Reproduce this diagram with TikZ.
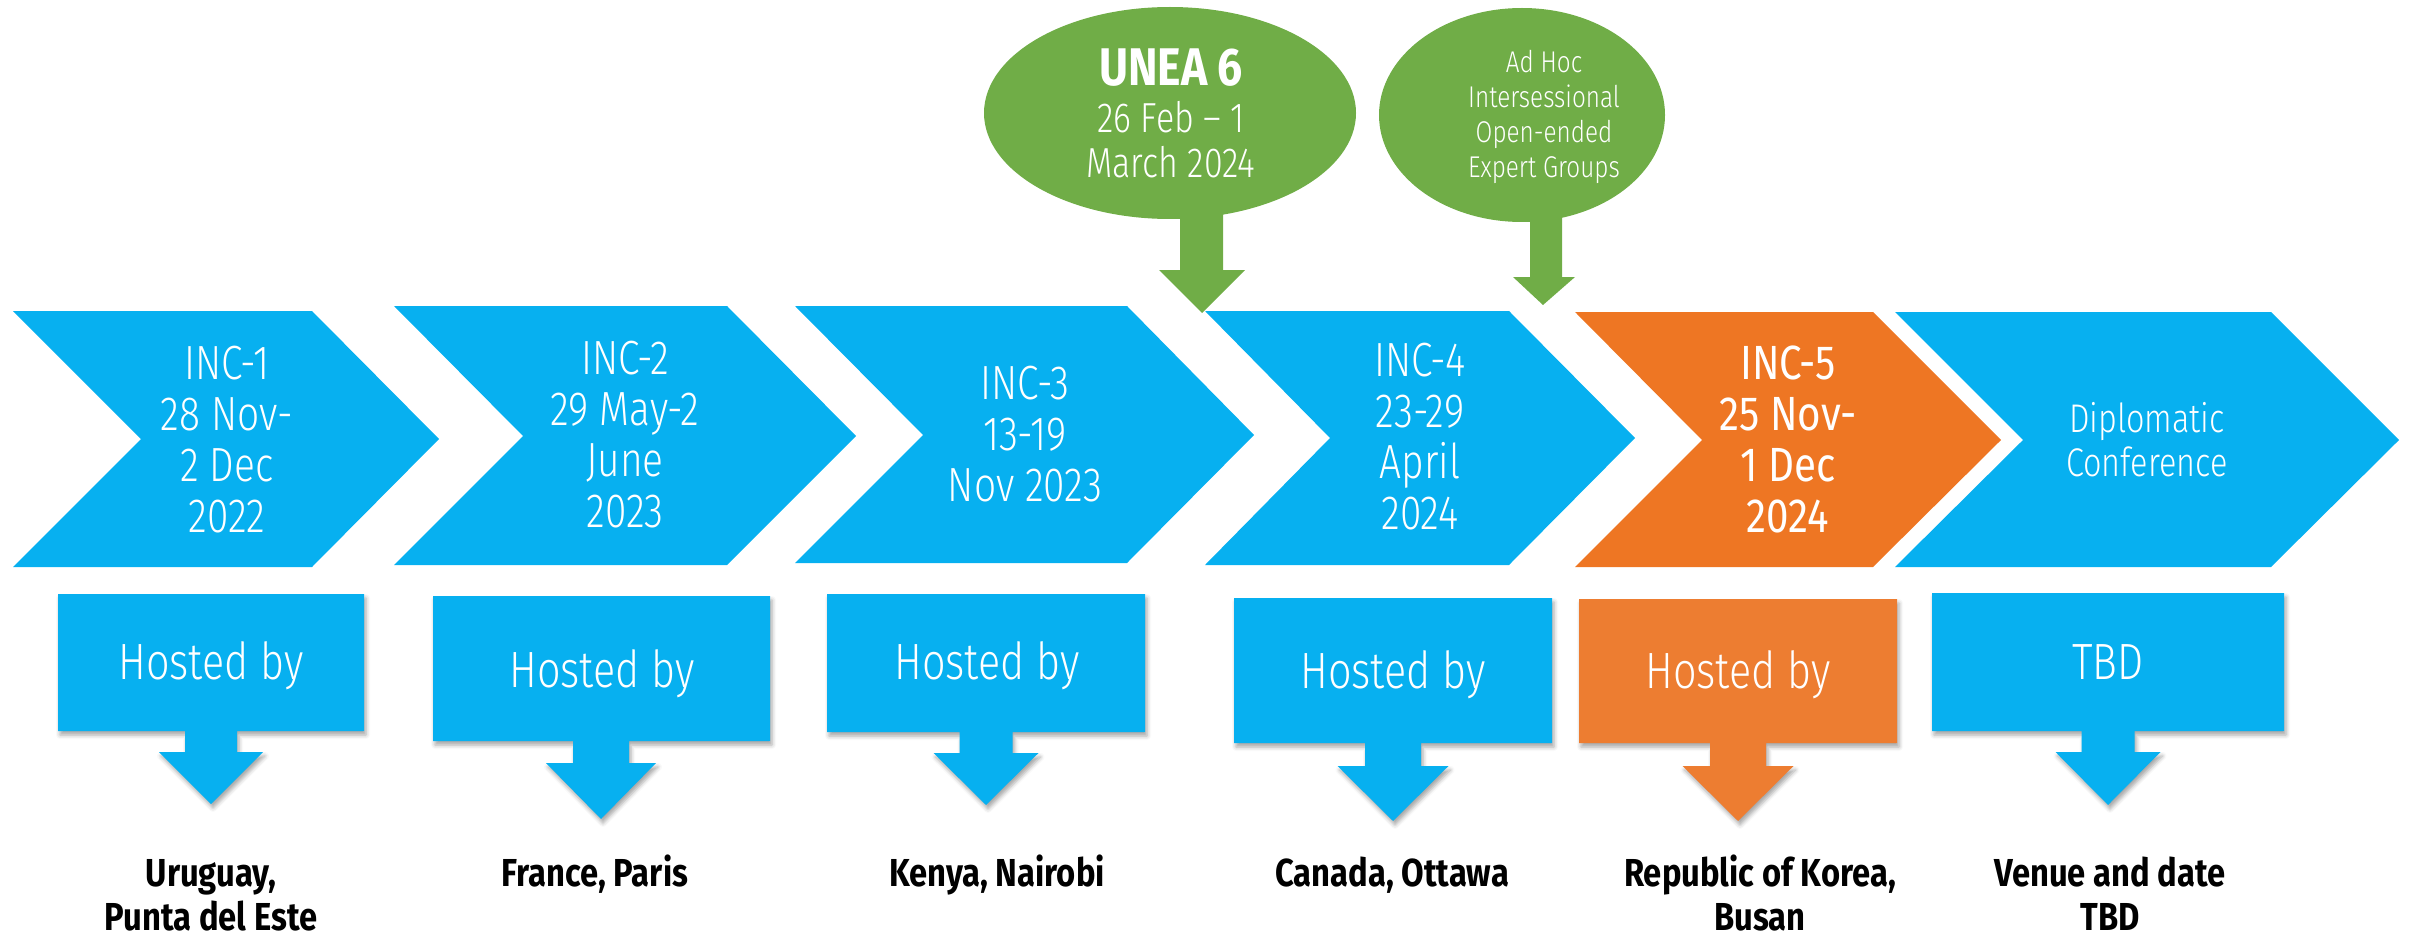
\documentclass[tikz,border=0pt]{standalone}
\usepackage{fontspec}
\setmainfont{Fira Sans}[FakeStretch=0.84]
\newfontfamily\lightf{Fira Sans Light}[FakeStretch=0.81]
\usetikzlibrary{shadows.blur}
\definecolor{cblue}{RGB}{7,176,240}
\definecolor{corange}{RGB}{238,118,35}
\definecolor{cboxorange}{RGB}{237,125,49}
\definecolor{cgreen}{RGB}{112,173,71}
\tikzset{
  chevtext/.style={anchor=base, align=center, text=white, inner sep=0pt, font=\lightf\fontsize{48}{51}\selectfont},
  hosttext/.style={anchor=base, align=center, text=white, inner sep=0pt, font=\lightf\fontsize{51}{55}\selectfont},
  placetext/.style={anchor=base, align=center, text=black, inner sep=0pt, font=\bfseries\fontsize{39}{44}\selectfont},
  calltext/.style={anchor=base, align=center, text=white, inner sep=0pt},
  boxshadow/.style={blur shadow={shadow xshift=2pt, shadow yshift=-4pt, shadow blur radius=4pt, shadow opacity=35}},
}
\begin{document}
\begin{tikzpicture}[x=1pt,y=-1pt]
\useasboundingbox (0,0) rectangle (2410,936);
% chevrons: L/R/T/top/bot/mid/notch/color
\foreach \L/\R/\T/\tp/\bt/\md/\nt/\col in {
  13/312/439/311/567/439/141/cblue,
  394/727/856/306/565/436/523/cblue,
  795/1127/1254/306/563/435/923/cblue,
  1205/1509/1635/311/565/438/1330/cblue,
  1575/1873/2001/312/567/440/1702/corange,
  1895/2271/2399/312/567/440/2023/cblue}
  \fill[\col] (\L,\tp) -- (\R,\tp) -- (\T,\md) -- (\R,\bt) -- (\L,\bt) -- (\nt,\md) -- cycle;
% hosted boxes: L/R/top/bot/tx/sw/hw/hy/ty/color
\foreach \L/\R/\tp/\bt/\tx/\sw/\hw/\hy/\ty/\col in {
  58/364/594/731/211/26/52/752/804/cblue,
  433/770/596/741/601/28/55/763/819/cblue,
  827/1145/594/732/986/26.5/52.5/753/805/cblue,
  1234/1552/598/743/1393/28/55.5/766/821/cblue,
  1579/1897/599/743/1738/28/55.5/766/821/cboxorange,
  1932/2284/593/731/2108/26.5/52.5/752/805/cblue}
  \fill[\col, boxshadow] (\L,\tp) -- (\R,\tp) -- (\R,\bt) -- (\tx+\sw,\bt) -- (\tx+\sw,\hy)
     -- (\tx+\hw,\hy) -- (\tx,\ty) -- (\tx-\hw,\hy) -- (\tx-\sw,\hy) -- (\tx-\sw,\bt)
     -- (\L,\bt) -- cycle;
% green callouts
\fill[cgreen] (1170,113) ellipse [x radius=186, y radius=106];
\fill[cgreen] (1180,200) -- (1223,200) -- (1223,270) -- (1245,270) -- (1202,313) -- (1159,270) -- (1180,270) -- cycle;
\fill[cgreen] (1522,115) ellipse [x radius=143, y radius=107];
\fill[cgreen] (1530,200) -- (1562,200) -- (1562,277) -- (1575,277) -- (1543,305) -- (1513,277) -- (1530,277) -- cycle;
% chevron texts (anchor = baseline of last line)
\node[chevtext] (inc1) at (227,532) {INC-1\\28 Nov-\\2 Dec\\2022};
\node[chevtext] (inc2) at (625,527) {INC-2\\29 May-2\\June\\2023};
\node[chevtext] (inc3) at (1025,501) {INC-3\\13-19\\Nov 2023};
\node[chevtext] (inc4) at (1420,529) {INC-4\\23-29\\April\\2024};
\node[chevtext, font=\fontsize{48}{51}\selectfont] (inc5) at (1788,532) {INC-5\\25 Nov-\\1 Dec\\2024};
\node[chevtext, font=\lightf\fontsize{40}{44}\selectfont] (dipl) at (2147,476) {Diplomatic\\Conference};
% callout texts
\node[calltext, font=\bfseries\fontsize{53}{56}\selectfont] (unea) at (1171,86) {UNEA 6};
\node[calltext, font=\lightf\fontsize{42}{45}\selectfont] (uneadate) at (1171,178) {26 Feb – 1\\March 2024};
\node[calltext, font=\lightf\fontsize{30}{35}\selectfont] (adhoc) at (1544,178) {Ad Hoc\\Intersessional\\Open-ended\\Expert Groups};
% hosted texts
\node[hosttext] (h1) at (211,679) {Hosted by};
\node[hosttext] (h2) at (602,687) {Hosted by};
\node[hosttext] (h3) at (987,679) {Hosted by};
\node[hosttext] (h4) at (1393,688) {Hosted by};
\node[hosttext] (h5) at (1738,688) {Hosted by};
\node[hosttext] (h6) at (2108,679) {TBD};
% place texts
\node[placetext] (p1) at (211,930) {Uruguay,\\Punta del Este};
\node[placetext] (p2) at (595,886) {France, Paris};
\node[placetext] (p3) at (997,886) {Kenya, Nairobi};
\node[placetext] (p4) at (1392,886) {Canada, Ottawa};
\node[placetext] (p5) at (1760,930) {Republic of Korea,\\Busan};
\node[placetext] (p6) at (2110,930) {Venue and date\\TBD};
\end{tikzpicture}
\end{document}
